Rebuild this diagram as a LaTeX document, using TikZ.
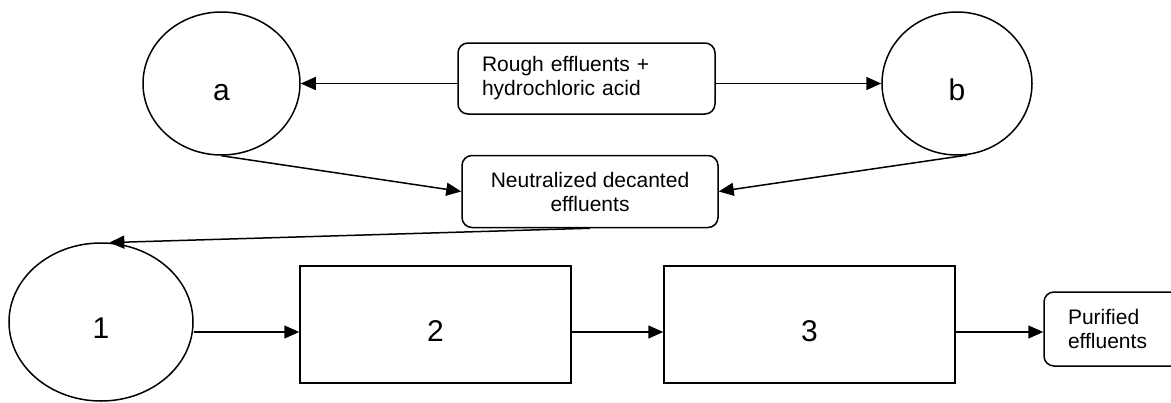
\documentclass[tikz,border=0pt]{standalone}
\usepackage{fontspec}
\setmainfont{Liberation Sans}
\usetikzlibrary{arrows.meta,shapes.geometric}

\begin{document}
\begin{tikzpicture}[x=1pt,y=-1pt,
  stage/.style={draw,ellipse,line width=1.5pt,inner sep=0pt,font=\fontsize{30}{36}\selectfont,text height=33pt,text depth=0pt},
  unit/.style={draw,rectangle,line width=1.5pt,inner sep=0pt,font=\fontsize{30}{36}\selectfont,text height=33pt,text depth=0pt},
  flow/.style={draw,line width=1.5pt,rounded corners=10pt,font=\fontsize{21}{24}\selectfont},
  arr/.style={line width=1.5pt,-{Triangle[length=15pt,width=13pt]}}]
\useasboundingbox (0,0) rectangle (1171,402);

% decanting basins
\node[stage,minimum width=157pt,minimum height=143pt] (a) at (221.5,83.5) {a};
\node[stage,minimum width=150pt,minimum height=143pt] (b) at (957,83.5) {b};
\node[flow,align=left,text width=209pt,inner xsep=24pt,minimum height=71pt] (rough) at (586.5,78.5) {Rough effluents +\\hydrochloric acid};
\node[flow,align=center,minimum width=256pt,minimum height=72pt] (neut) at (590,191.5) {Neutralized decanted\\effluents};

% treatment line
\node[stage,minimum width=184pt,minimum height=158pt] (e1) at (101,322) {1};
\node[unit,minimum width=271pt,minimum height=117pt] (b2) at (435.5,324.5) {2};
\node[unit,minimum width=291pt,minimum height=117pt] (b3) at (809.5,324.5) {3};
\node[flow,align=left,text width=92pt,inner xsep=24pt,minimum height=74pt] (out) at (1114,329) {Purified\\effluents};
\coordinate (row) at (0,332);

\draw[arr] (rough.west |- a.east) -- (a.east);
\draw[arr] (rough.east |- b.west) -- (b.west);
\draw[arr] (a.south) -- (neut.west);
\draw[arr] (b.-82) -- (neut.east);
\draw[arr] (neut.south) -- (e1.84);
\draw[arr] (e1.east |- row) -- (b2.west |- row);
\draw[arr] (b2.east |- row) -- (b3.west |- row);
\draw[arr] (b3.east |- row) -- (out.west |- row);
\end{tikzpicture}
\end{document}
